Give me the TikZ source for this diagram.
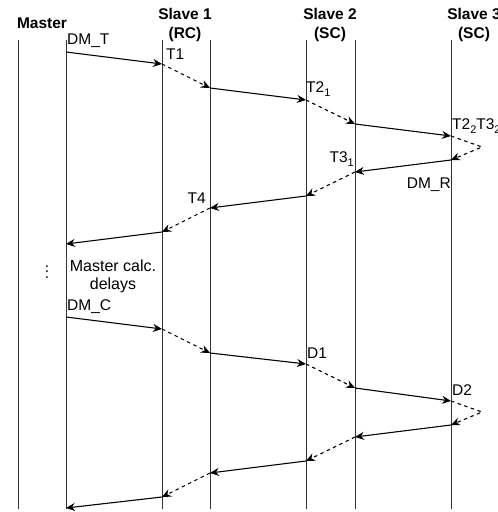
\documentclass[tikz,border=0pt]{standalone}
\usepackage{fontspec}
\setmainfont{Liberation Sans}
\usetikzlibrary{arrows.meta}
\newcommand\mysub[1]{\raisebox{-0.45ex}{\fontsize{11}{11}\selectfont #1}}
\newcommand\myvdots{\vbox{\baselineskip5.8pt\lineskiplimit0pt\hbox{.}\hbox{.}\hbox{.}}}
\begin{document}
\begin{tikzpicture}[x=1pt,y=-1pt,
  life/.style={draw=black!80, line width=1pt},
  msg/.style={line width=1.1pt, -{Stealth[length=9pt,width=8pt,inset=3pt]}},
  relay/.style={msg, dash pattern=on 3.5pt off 3.5pt},
  lbl/.style={font=\fontsize{15.5}{17}\selectfont, inner sep=0pt},
  head/.style={font=\fontsize{15.5}{19}\selectfont\bfseries, inner sep=0pt, align=center}]
\useasboundingbox (0,0) rectangle (498,512);

% headers
\node[head] (hM) at (42,23) {Master};
\node[head] (hS1) at (185,25) {Slave 1\\(RC)};
\node[head] (hS2) at (330,25) {Slave 2\\(SC)};
\node[head] (hS3) at (474,25) {Slave 3\\(SC)};

% lifelines
\foreach \n/\x in {A/18,B/66,C/162,D/210,E/306,F/355,G/451}{
  \coordinate (\n t) at (\x,40);
  \coordinate (\n b) at (\x,509);
  \draw[life] (\n t) -- (\n b);
}

% round 1 points
\coordinate (p1) at (66,52);
\coordinate (p2) at (162,64);
\coordinate (p3) at (210,88);
\coordinate (p4) at (306,100);
\coordinate (p5) at (355,124);
\coordinate (p6) at (451,136);
\coordinate (t1) at (482,147);
\coordinate (p7) at (451,160);
\coordinate (p8) at (355,172);
\coordinate (p9) at (306,196);
\coordinate (p10) at (210,208);
\coordinate (p11) at (162,232);
\coordinate (p12) at (66,244);

\draw[msg] (p1) -- (p2);
\draw[relay] (p2) -- (p3);
\draw[msg] (p3) -- (p4);
\draw[relay] (p4) -- (p5);
\draw[msg] (p5) -- (p6);
\draw[relay] (p6) -- (t1) -- (p7);
\draw[msg] (p7) -- (p8);
\draw[relay] (p8) -- (p9);
\draw[msg] (p9) -- (p10);
\draw[relay] (p10) -- (p11);
\draw[msg] (p11) -- (p12);

% round 2 points
\coordinate (q1) at (66,317);
\coordinate (q2) at (162,329);
\coordinate (q3) at (210,353);
\coordinate (q4) at (306,364);
\coordinate (q5) at (355,388);
\coordinate (q6) at (451,401);
\coordinate (t2) at (482,412);
\coordinate (q7) at (451,425);
\coordinate (q8) at (355,437);
\coordinate (q9) at (306,461);
\coordinate (q10) at (210,473);
\coordinate (q11) at (162,497);
\coordinate (q12) at (66,508);

\draw[msg] (q1) -- (q2);
\draw[relay] (q2) -- (q3);
\draw[msg] (q3) -- (q4);
\draw[relay] (q4) -- (q5);
\draw[msg] (q5) -- (q6);
\draw[relay] (q6) -- (t2) -- (q7);
\draw[msg] (q7) -- (q8);
\draw[relay] (q8) -- (q9);
\draw[msg] (q9) -- (q10);
\draw[relay] (q10) -- (q11);
\draw[msg] (q11) -- (q12);

% labels
\node[lbl, anchor=west] (lDMT) at (67,41) {DM\_T};
\node[lbl, anchor=west] (lT1) at (166,54) {T1};
\node[lbl, anchor=west] (lT21) at (306,89) {T2\mysub{1}};
\node[lbl, anchor=west] (lT22) at (452,126) {T2\mysub{2}T3\mysub{2}};
\node[lbl, anchor=east] (lT31) at (354,159) {T3\mysub{1}};
\node[lbl, anchor=east] (lDMR) at (451,185) {DM\_R};
\node[lbl, anchor=east] (lT4) at (206,198) {T4};
\node[lbl, align=center, font=\fontsize{16}{18}\selectfont] (lcalc) at (113,276) {Master calc.\\delays};
\node[lbl] (ldots) at (47,272) {\myvdots};
\node[lbl, anchor=west] (lDMC) at (67,307) {DM\_C};
\node[lbl, anchor=west] (lD1) at (307,353) {D1};
\node[lbl, anchor=west] (lD2) at (452,390) {D2};
\end{tikzpicture}
\end{document}
